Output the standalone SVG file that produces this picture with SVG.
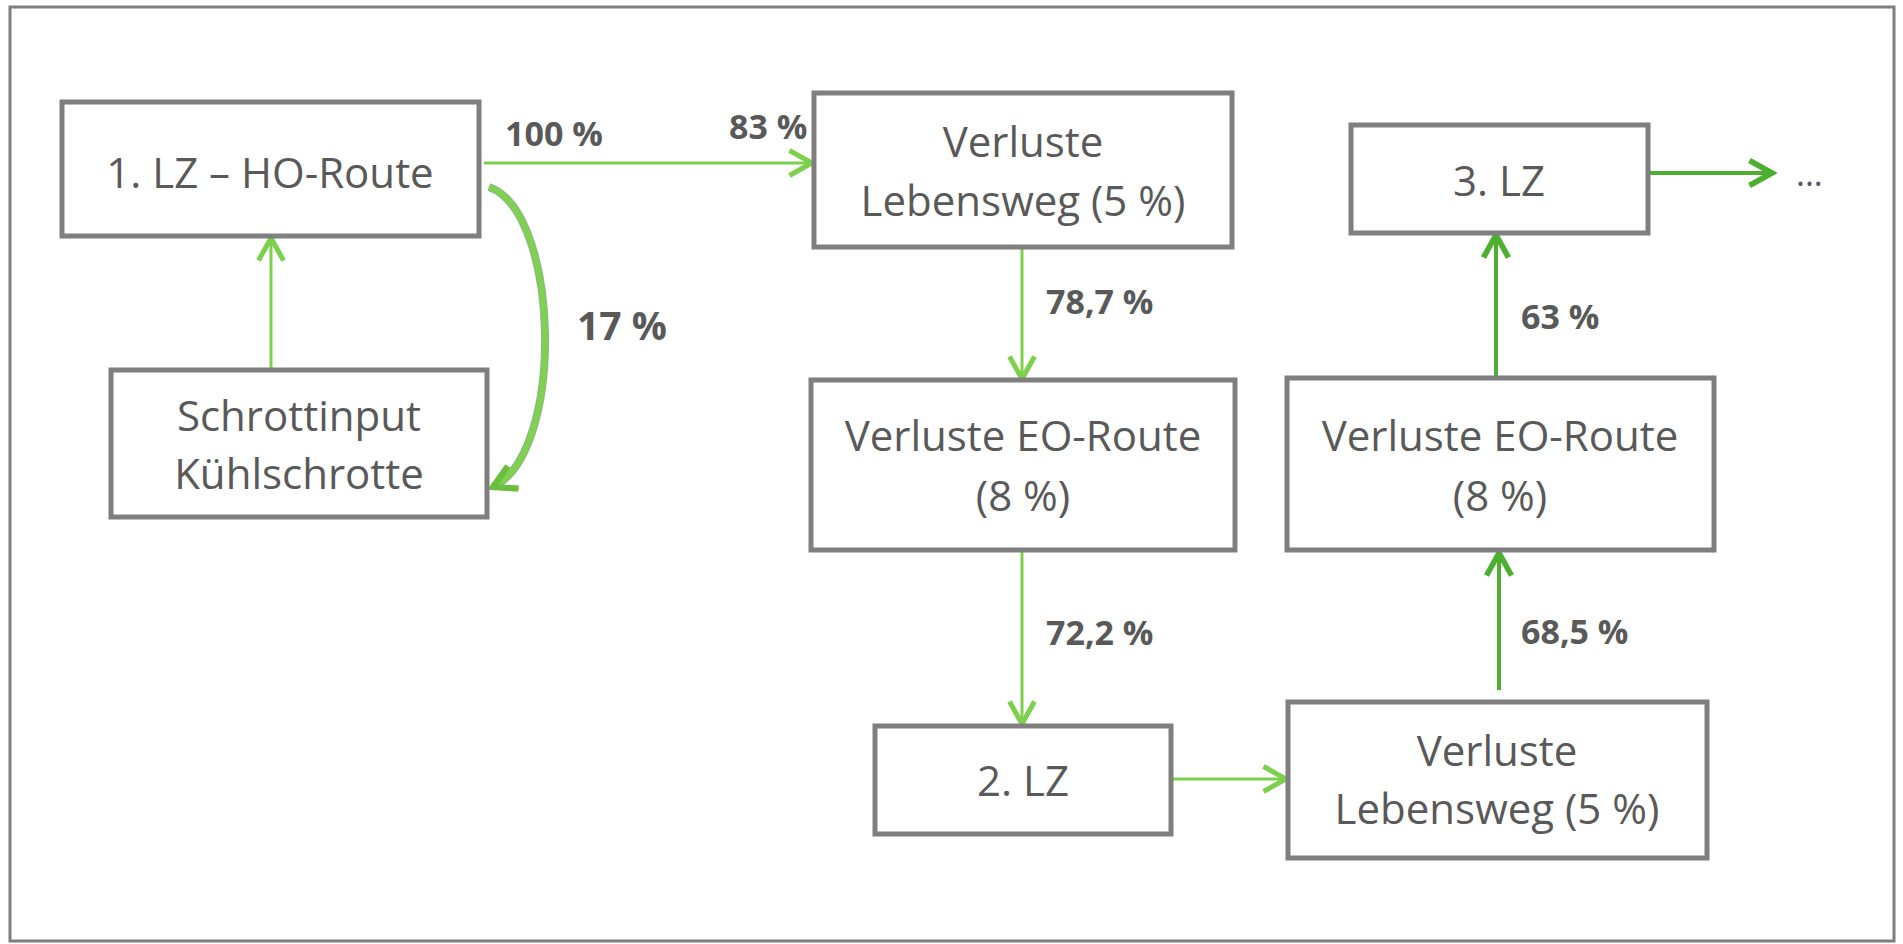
<svg xmlns="http://www.w3.org/2000/svg" width="1903" height="944" viewBox="0 0 1903 944">
<defs>
<style>
.box{fill:#ffffff;stroke:#7f7f7f;stroke-width:5}
.t{font-family:"Open Sans","Liberation Sans",sans-serif;font-size:42px;fill:#595959;text-anchor:middle}
.lbl{font-family:"Open Sans","Liberation Sans",sans-serif;font-size:34px;font-weight:bold;fill:#595959}
.lg{fill:none;stroke:#7dd04b;stroke-width:3}
.dg{fill:none;stroke:#4caf2f;stroke-width:4}
</style>
<marker id="ahL" markerUnits="userSpaceOnUse" markerWidth="30" markerHeight="30" refX="20" refY="12" orient="auto" viewBox="0 0 24 24">
<path d="M2 2 L20 12 L2 22" fill="none" stroke="#7dd04b" stroke-width="4"/>
</marker>
<marker id="ahD" markerUnits="userSpaceOnUse" markerWidth="30" markerHeight="30" refX="20" refY="12" orient="auto" viewBox="0 0 24 24">
<path d="M2 2 L20 12 L2 22" fill="none" stroke="#4caf2f" stroke-width="4.5"/>
</marker>
<marker id="ahC" markerUnits="userSpaceOnUse" markerWidth="30" markerHeight="30" refX="20" refY="12" orient="auto" viewBox="0 0 24 24">
<path d="M2 2 L20 12 L2 22" fill="none" stroke="#6cbf3e" stroke-width="5"/>
</marker>
</defs>
<rect x="0" y="0" width="1903" height="944" fill="#ffffff"/>
<rect x="10" y="7" width="1884" height="934" fill="none" stroke="#7f7f7f" stroke-width="3"/>

<g id="connectors">
<line class="lg" x1="271" y1="370" x2="271" y2="238" marker-end="url(#ahL)"/>
<line class="lg" x1="484" y1="163" x2="812" y2="163" marker-end="url(#ahL)"/>
<path d="M489 187 C560 212, 566 452, 493 487" fill="none" stroke="#3f8f2a" stroke-width="8" opacity="0.6"/>
<path d="M489 187 C560 212, 566 452, 493 487" fill="none" stroke="#7fd24c" stroke-width="5" marker-end="url(#ahC)"/>
<line class="lg" x1="1022" y1="247" x2="1022" y2="379" marker-end="url(#ahL)"/>
<line class="lg" x1="1022" y1="550" x2="1022" y2="724" marker-end="url(#ahL)"/>
<line class="lg" x1="1164" y1="779" x2="1286" y2="779" marker-end="url(#ahL)"/>
<line class="dg" x1="1499" y1="690" x2="1499" y2="553" marker-end="url(#ahD)"/>
<line class="dg" x1="1496" y1="378" x2="1496" y2="235" marker-end="url(#ahD)"/>
<line class="dg" x1="1648" y1="173" x2="1772" y2="173" marker-end="url(#ahD)"/>
<text class="lbl" x="505" y="146">100 %</text>
<text class="lbl" x="729" y="139">83 %</text>
<text class="lbl" x="577" y="340" style="font-size:39px">17 %</text>
<text class="lbl" x="1046" y="314">78,7 %</text>
<text class="lbl" x="1046" y="645">72,2 %</text>
<text class="lbl" x="1521" y="329">63 %</text>
<text class="lbl" x="1521" y="644">68,5 %</text>
</g>

<g id="n1">
<rect class="box" x="62" y="102" width="417" height="134"/>
<text class="t" x="270" y="188">1. LZ – HO-Route</text>
</g>
<g id="n_schrott">
<rect class="box" x="111" y="370" width="376" height="147"/>
<text class="t" x="299" y="431">Schrottinput</text>
<text class="t" x="299" y="489">Kühlschrotte</text>
</g>
<g id="n_verl1">
<rect class="box" x="814" y="93" width="418" height="154"/>
<text class="t" x="1023" y="157">Verluste</text>
<text class="t" x="1023" y="216">Lebensweg (5 %)</text>
</g>
<g id="n_eo1">
<rect class="box" x="811" y="380" width="424" height="170"/>
<text class="t" x="1023" y="451">Verluste EO-Route</text>
<text class="t" x="1023" y="511">(8 %)</text>
</g>
<g id="n_lz2">
<rect class="box" x="875" y="726" width="296" height="108"/>
<text class="t" x="1023" y="796">2. LZ</text>
</g>
<g id="n_verl2">
<rect class="box" x="1288" y="702" width="419" height="156"/>
<text class="t" x="1497" y="766">Verluste</text>
<text class="t" x="1497" y="824">Lebensweg (5 %)</text>
</g>
<g id="n_eo2">
<rect class="box" x="1287" y="378" width="427" height="172"/>
<text class="t" x="1500" y="451">Verluste EO-Route</text>
<text class="t" x="1500" y="511">(8 %)</text>
</g>
<g id="n_lz3">
<rect class="box" x="1351" y="125" width="297" height="108"/>
<text class="t" x="1499" y="196">3. LZ</text>
</g>
<g id="n_more">
<text x="1796" y="186" style="font-family:'Open Sans','Liberation Sans',sans-serif;font-size:34px;fill:#595959">...</text>
</g>
</svg>
